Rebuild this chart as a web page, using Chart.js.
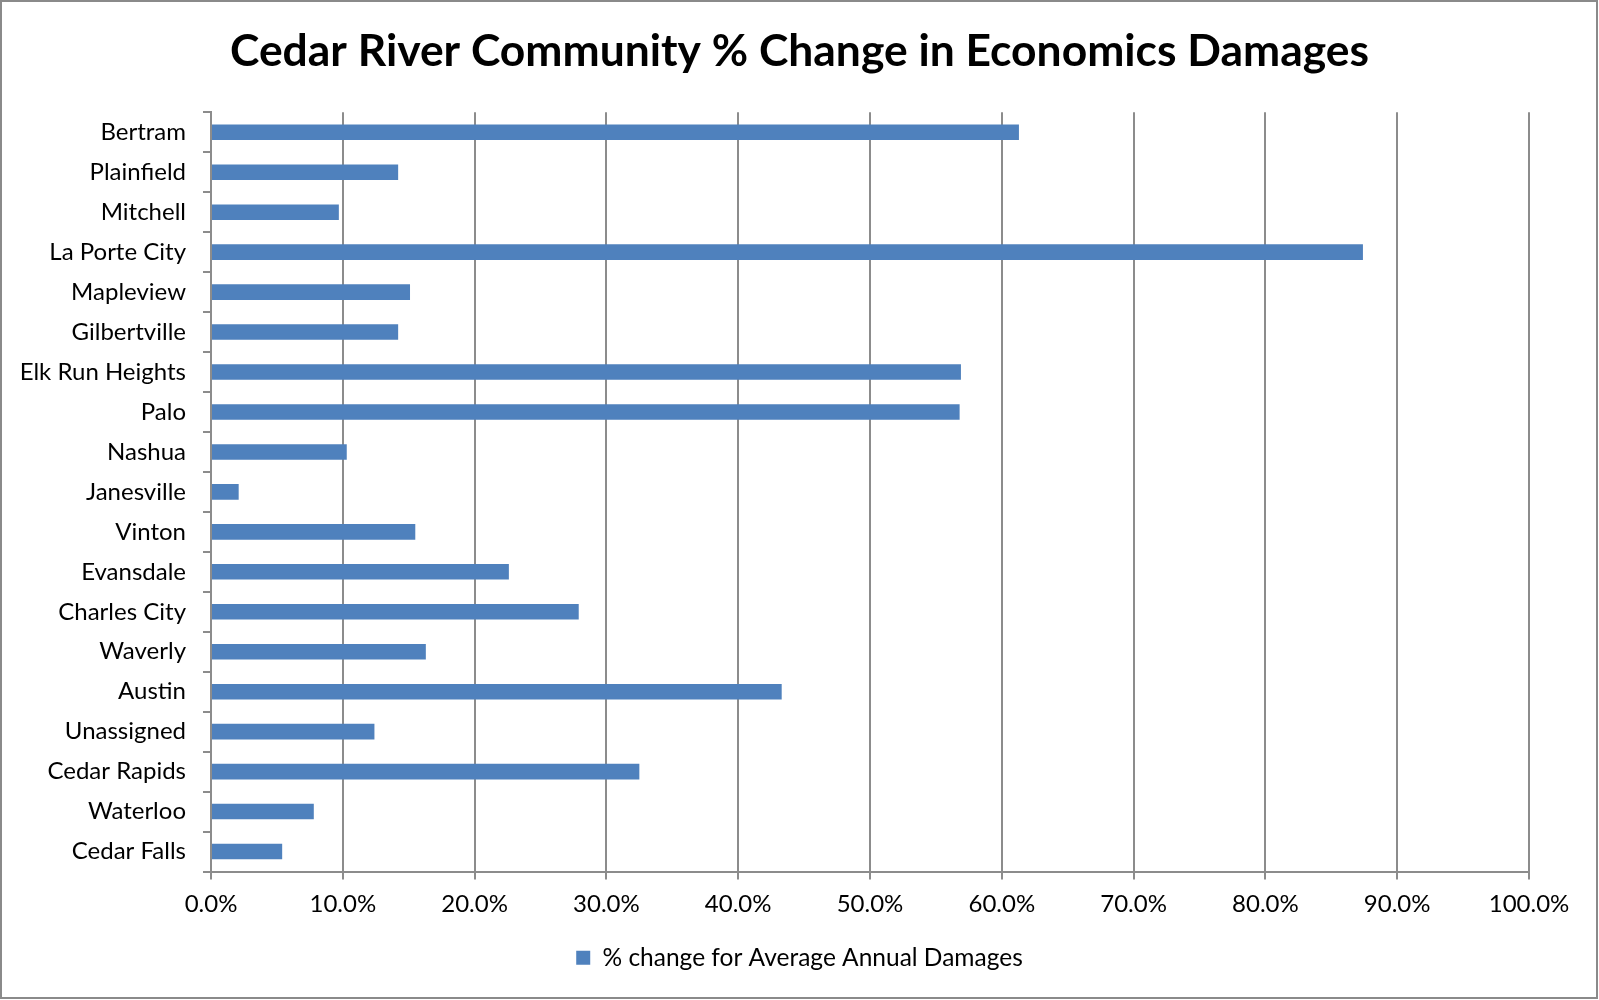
<!DOCTYPE html>
<html>
<head>
<meta charset="utf-8">
<script src="https://cdn.jsdelivr.net/npm/chart.js@4.4.1/dist/chart.umd.min.js"></script>
<style>
  html, body { margin: 0; padding: 0; background: #fff; }
  #wrap { width: 1599px; height: 1000px; }
</style>
</head>
<body>
<div id="wrap"><canvas id="damagesChart" width="1599" height="1000"></canvas></div>
<script>
// communities, top to bottom as in the picture
var communities = [
    "Bertram", "Plainfield", "Mitchell", "La Porte City", "Mapleview",
    "Gilbertville", "Elk Run Heights", "Palo", "Nashua", "Janesville",
    "Vinton", "Evansdale", "Charles City", "Waverly", "Austin",
    "Unassigned", "Cedar Rapids", "Waterloo", "Cedar Falls"
];

// % change for average annual damages
var pctChange = [
    61.3, 14.2, 9.7, 87.4, 15.1,
    14.2, 56.9, 56.8, 10.3, 2.1,
    15.5, 22.6, 27.9, 16.3, 43.3,
    12.4, 32.5, 7.8, 5.4
];

var seriesName = "% change for Average Annual Damages";
var chartTitle = "Cedar River Community % Change in Economics Damages";

var axisGray = "#8c8c8c";
var fontFam = "Lato, 'Open Sans', sans-serif";

// white background + thin frame round the whole chart
var framePlugin = {
    id: "frame",
    beforeDraw: function(chart) {
        var ctx = chart.ctx;
        ctx.save();
        ctx.fillStyle = "#fff";
        ctx.fillRect(0, 0, chart.width, chart.height);
        ctx.strokeStyle = "#8a8a8a";
        ctx.lineWidth = 2;
        ctx.strokeRect(1, 1, 1596, 997);
        ctx.restore();
    }
};

var ctx = document.getElementById("damagesChart");

var damagesChart = new Chart(ctx, {
    type: "bar",
    data: {
        labels: communities,
        datasets: [{
            label: seriesName,
            data: pctChange,
            backgroundColor: "#4F81BD",
            borderWidth: 0,
            barPercentage: 0.39,
            categoryPercentage: 1.0
        }]
    },
    options: {
        indexAxis: "y",
        responsive: false,
        animation: false,
        devicePixelRatio: 1,
        layout: {
            padding: { top: 12, right: 0, bottom: 20, left: 0 }
        },
        plugins: {
            title: {
                display: true,
                text: chartTitle,
                color: "#000",
                font: { family: fontFam, size: 44.4, weight: "bold", lineHeight: 1.2 },
                padding: { top: 13, bottom: 34 }
            },
            legend: {
                display: true,
                position: "bottom",
                labels: {
                    color: "#000",
                    font: { family: fontFam, size: 24.5 },
                    boxWidth: 14,
                    boxHeight: 14,
                    padding: 18
                }
            },
            tooltip: { enabled: false }
        },
        scales: {
            x: {
                min: 0,
                max: 100,
                ticks: {
                    stepSize: 10,
                    color: "#000",
                    padding: 10,
                    font: { family: fontFam, size: 24 },
                    callback: function(v) { return v.toFixed(1) + "%"; }
                },
                grid: {
                    color: axisGray,
                    lineWidth: 2,
                    tickLength: 8,
                    drawTicks: true
                },
                border: { color: axisGray, width: 2 },
                afterFit: function(scale) { scale.height = 56; }
            },
            y: {
                ticks: {
                    color: "#000",
                    padding: 17,
                    autoSkip: false,
                    font: { family: fontFam, size: 24 }
                },
                grid: {
                    offset: true,
                    drawOnChartArea: false,
                    color: axisGray,
                    lineWidth: 2,
                    tickLength: 8
                },
                border: { color: axisGray, width: 2 },
                afterFit: function(scale) { scale.width = 211; }
            },
            // empty right-hand axis, only reserves the margin right of the plot
            yRight: {
                type: "category",
                position: "right",
                ticks: { display: false },
                grid: { display: false },
                border: { display: false },
                afterFit: function(scale) { scale.width = 70; }
            }
        }
    },
    plugins: [framePlugin]
});
</script>
</body>
</html>
